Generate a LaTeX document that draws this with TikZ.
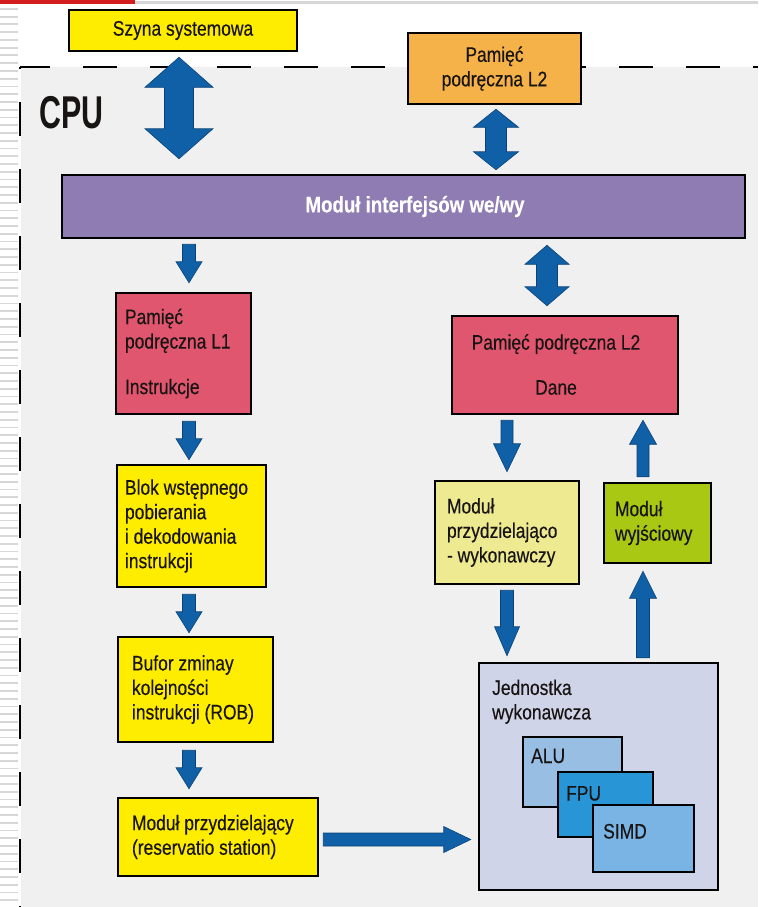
\documentclass[tikz,border=0pt]{standalone}
\usepackage{fontspec}
\setmainfont{Liberation Sans}[FakeStretch=0.83, FakeBold=0.35]
\newfontfamily\cpufont{Liberation Sans}[FakeStretch=0.66]
\usetikzlibrary{calc}
\definecolor{cyel}{RGB}{255,237,0}
\definecolor{corange}{RGB}{245,178,72}
\definecolor{cpurp}{RGB}{142,124,178}
\definecolor{cred}{RGB}{224,86,110}
\definecolor{cpale}{RGB}{238,234,145}
\definecolor{cgreen}{RGB}{168,200,20}
\definecolor{cjedn}{RGB}{208,212,232}
\definecolor{calu}{RGB}{152,190,228}
\definecolor{cfpu}{RGB}{40,150,214}
\definecolor{csimd}{RGB}{122,180,228}
\definecolor{ablue}{RGB}{16,96,168}
\definecolor{cbg}{RGB}{240,240,240}
\definecolor{cstripe}{RGB}{214,214,214}
\definecolor{cbar}{RGB}{210,30,30}
\definecolor{ctext}{RGB}{25,20,20}
\newcommand\blkdown[5]{\path[blk] let \p1=(#1), \p2=(#2) in
 (\x1-#3pt,\y1) -- (\x1+#3pt,\y1) -- (\x1+#3pt,\y2+#5pt) -- (\x1+#4pt,\y2+#5pt) -- (\x1,\y2) -- (\x1-#4pt,\y2+#5pt) -- (\x1-#3pt,\y2+#5pt) -- cycle;}
\newcommand\blkup[5]{\path[blk] let \p1=(#1), \p2=(#2) in
 (\x1-#3pt,\y1) -- (\x1+#3pt,\y1) -- (\x1+#3pt,\y2-#5pt) -- (\x1+#4pt,\y2-#5pt) -- (\x1,\y2) -- (\x1-#4pt,\y2-#5pt) -- (\x1-#3pt,\y2-#5pt) -- cycle;}
\newcommand\blkboth[5]{\path[blk] let \p1=(#1), \p2=(#2) in
 (\x1,\y1) -- (\x1+#4pt,\y1-#5pt) -- (\x1+#3pt,\y1-#5pt) -- (\x1+#3pt,\y2+#5pt) -- (\x1+#4pt,\y2+#5pt) -- (\x1,\y2) -- (\x1-#4pt,\y2+#5pt) -- (\x1-#3pt,\y2+#5pt) -- (\x1-#3pt,\y1-#5pt) -- (\x1-#4pt,\y1-#5pt) -- cycle;}
\newcommand\blkright[5]{\path[blk] let \p1=(#1), \p2=(#2) in
 (\x1,\y1+#3pt) -- (\x2-#5pt,\y1+#3pt) -- (\x2-#5pt,\y1+#4pt) -- (\x2,\y1) -- (\x2-#5pt,\y1-#4pt) -- (\x2-#5pt,\y1-#3pt) -- (\x1,\y1-#3pt) -- cycle;}
\begin{document}
\begin{tikzpicture}[x=1pt,y=-1pt,
  box/.style={draw=black, line width=2.5pt, inner ysep=0pt, inner xsep=0pt, text=ctext,
    font=\fontsize{21}{24.5}\selectfont},
  txt/.style={inner sep=0pt, text=ctext, font=\fontsize{21}{24.5}\selectfont},
  blk/.style={fill=ablue, draw=ablue!70!black, line width=0.6pt},
  cpuborder/.style={draw=black, line width=2.5pt}]
\useasboundingbox (0,0) rectangle (758,907);
% page decorations
\fill[white] (0,0) rectangle (758,907);
\foreach \i in {0,...,115} \fill[cstripe] (0,{8+7.75*\i}) rectangle (18,{9.8+7.75*\i});
\fill[cbar] (0,0) rectangle (135,4.5);
\fill[cstripe] (135,1.5) rectangle (758,4);
% CPU area
\fill[cbg] (21,67) rectangle (758,907);
\draw[cpuborder, dash pattern=on 34pt off 33pt, dash phase=4pt] (20,67) -- (758,67);
\draw[cpuborder, dash pattern=on 34pt off 33pt, dash phase=32pt] (20,67) -- (20,907);
\node[anchor=base west, inner sep=0pt, text=ctext, font=\cpufont\bfseries\fontsize{46}{46}\selectfont] (cpu) at (39,128) {CPU};
% boxes
\node[box, fill=cyel, minimum width=228pt, minimum height=41pt, align=center] (szyna) at (183,30.5) {Szyna systemowa};
\node[box, fill=corange, minimum width=173pt, minimum height=71pt, align=center] (l2top) at (494.5,68.5) {Pamięć\\podręczna L2};
\node[box, fill=cpurp, minimum width=683pt, minimum height=63pt] (io) at (403.5,206.5) {};
\node[txt, text=white, font=\fontsize{22.5}{24.5}\selectfont\bfseries] (iot) at (415,206.5) {Moduł interfejsów we/wy};
\node[box, fill=cred, minimum height=121pt, text width=117pt, inner xsep=9pt, align=flush left] (l1) at (183.5,353.5) {Pamięć\\podręczna L1\\[21pt]Instrukcje};
\node[box, fill=cyel, minimum height=122pt, text width=133pt, inner xsep=8pt, align=flush left] (blok) at (191.5,526) {Blok wstępnego\\pobierania\\i dekodowania\\instrukcji};
\node[box, fill=cyel, minimum height=105pt, text width=127pt, inner xsep=14pt, align=flush left] (bufor) at (195.5,689.5) {Bufor zminay\\kolejności\\instrukcji (ROB)};
\node[box, fill=cyel, minimum height=78pt, text width=172pt, inner xsep=14pt, align=flush left] (przyd) at (218,837) {Moduł przydzielający\\(reservatio station)};
\node[box, fill=cred, minimum width=226pt, minimum height=98pt] (dane) at (565,365) {};
\node[txt, align=center] (danet) at (556,364.5) {Pamięć podręczna L2\\[20.5pt]Dane};
\node[box, fill=cpale, minimum height=103pt, text width=120pt, inner xsep=12pt, align=flush left] (pw) at (507,532.5) {Moduł\\przydzielająco\\- wykonawczy};
\node[box, fill=cgreen, minimum height=80pt, text width=85pt, inner xsep=11pt, align=flush left] (wyj) at (657.5,523) {Moduł\\wyjściowy};
\node[box, fill=cjedn, minimum width=239pt, minimum height=227pt] (jedn) at (598.5,776.5) {};
\node[txt, anchor=north west, align=flush left] (jednt) at (492,679.5) {Jednostka\\wykonawcza};
\node[box, fill=calu, minimum width=99pt, minimum height=70pt] (alu) at (572.5,772) {};
\node[txt, anchor=base west] (alut) at (531,763) {ALU};
\node[box, fill=cfpu, minimum width=95pt, minimum height=65pt] (fpu) at (605.5,804.5) {};
\node[txt, anchor=base west] (fput) at (566,800.5) {FPU};
\node[box, fill=csimd, minimum width=101pt, minimum height=67pt] (simd) at (643.5,838.5) {};
\node[txt, anchor=base west] (simdt) at (603,838.5) {SIMD};
% connector end points
\coordinate (a1t) at ($(szyna.south)+(-4,5)$);
\coordinate (a1b) at ($(io.north -| a1t)+(0,-15)$);
\coordinate (a2t) at ($(l2top.south)+(1.5,4)$);
\coordinate (a2b) at ($(io.north -| a2t)+(0,-4)$);
\coordinate (a3t) at ($(io.south -| l1.north)+(5.5,5)$);
\coordinate (a3b) at ($(l1.north)+(5.5,-9)$);
\coordinate (a4t) at ($(io.south -| dane.north)+(-18,6)$);
\coordinate (a4b) at ($(dane.north)+(-18,-9)$);
\coordinate (a5t) at ($(l1.south)+(5.5,6)$);
\coordinate (a5b) at ($(blok.north -| a5t)+(0,-4)$);
\coordinate (a6t) at ($(blok.south -| a5t)+(0,6)$);
\coordinate (a6b) at ($(bufor.north -| a5t)+(0,-3)$);
\coordinate (a7t) at ($(bufor.south -| a5t)+(0,7)$);
\coordinate (a7b) at ($(przyd.north -| a5t)+(0,-8)$);
\coordinate (a8s) at ($(przyd.east)+(4,2.5)$);
\coordinate (a8e) at ($(jedn.west |- a8s)+(-7,0)$);
\coordinate (a9t) at ($(dane.south -| pw.north)+(0,5)$);
\coordinate (a9b) at ($(pw.north)+(0,-8)$);
\coordinate (a10b) at ($(wyj.north)+(-14.5,-5)$);
\coordinate (a10t) at ($(dane.south -| a10b)+(0,5)$);
\coordinate (a11t) at ($(pw.south)+(0,5)$);
\coordinate (a11b) at ($(jedn.north -| a11t)+(0,-6)$);
\coordinate (a12b) at ($(jedn.north -| a10b)+(0,-4)$);
\coordinate (a12t) at ($(wyj.south -| a10b)+(0,7)$);
% block arrows
\blkboth{a1t}{a1b}{14.5}{34}{30}
\blkboth{a2t}{a2b}{10.5}{22.5}{18}
\blkdown{a3t}{a3b}{6.5}{13}{21}
\blkboth{a4t}{a4b}{10.5}{22}{19}
\blkdown{a5t}{a5b}{6.5}{13}{21}
\blkdown{a6t}{a6b}{6.5}{13}{21}
\blkdown{a7t}{a7b}{6.5}{13}{21}
\blkright{a8s}{a8e}{6.5}{13}{27}
\blkdown{a9t}{a9b}{6}{13.5}{28}
\blkup{a10b}{a10t}{6}{13.5}{24}
\blkdown{a11t}{a11b}{6.5}{12.5}{29}
\blkup{a12b}{a12t}{6.5}{13.5}{27}
\end{tikzpicture}
\end{document}
